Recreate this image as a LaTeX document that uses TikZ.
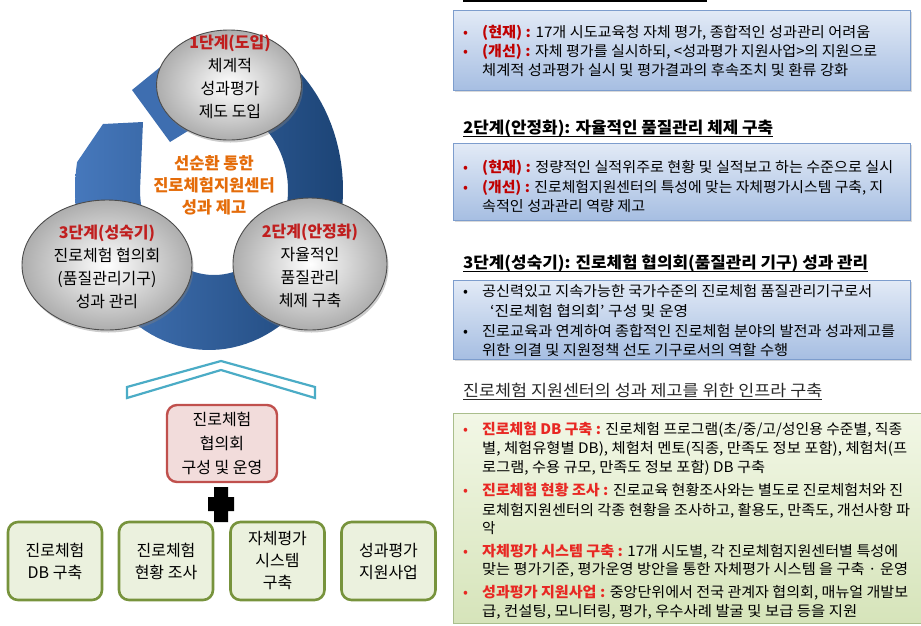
\documentclass[tikz,border=0pt]{standalone}
\usepackage{graphicx}
\usepackage{fontspec}
\setmainfont{Noto Sans CJK KR}
\usetikzlibrary{shapes.geometric,shadows}
\definecolor{ringL}{RGB}{70,120,188}
\definecolor{ringR}{RGB}{28,68,118}
\definecolor{arrowc}{RGB}{62,110,176}
\definecolor{ttlred}{RGB}{192,30,30}
\definecolor{ctrorange}{RGB}{228,108,10}
\definecolor{chevc}{RGB}{75,172,198}
\definecolor{pinkfill}{RGB}{242,220,219}
\definecolor{pinkdraw}{RGB}{192,80,77}
\definecolor{grnfill}{RGB}{235,241,222}
\definecolor{grndraw}{RGB}{119,147,60}
\definecolor{blueTop}{RGB}{226,234,246}
\definecolor{blueBot}{RGB}{166,190,226}
\definecolor{blueDraw}{RGB}{125,157,205}
\definecolor{greenTop}{RGB}{242,247,230}
\definecolor{greenBot}{RGB}{214,228,186}
\definecolor{greenDraw}{RGB}{170,190,140}
\definecolor{hred}{RGB}{192,0,0}
\definecolor{tred}{RGB}{232,40,35}
\definecolor{headgray}{RGB}{40,40,40}
\newcommand\hlred[1]{\textcolor{hred}{\bfseries #1}}
\newcommand\hlterm[1]{\textcolor{tred}{\bfseries #1}}
\newcommand\fitw[2]{\resizebox{#1}{\height}{#2}}
\begin{document}
\begin{tikzpicture}[x=1pt,y=-1pt,
  stage/.style={ellipse, draw=black!70, line width=0.9pt, inner color=white, outer color=black!32, inner sep=0pt,
    drop shadow={opacity=0.4,shadow xshift=1.5pt,shadow yshift=-2.5pt}},
  stagetxt/.style={align=center, inner sep=0pt, font=\fontsize{16}{23}\selectfont},
  ctrtxt/.style={align=center, inner sep=0pt, text=ctrorange, font=\fontsize{16.5}{22}\selectfont\bfseries},
  redbox/.style={draw=pinkdraw, fill=pinkfill, line width=2.4pt, rounded corners=10pt, minimum width=110pt,
    minimum height=77pt, align=center, font=\fontsize{16}{24}\selectfont, inner sep=0pt},
  grnbox/.style={draw=grndraw, fill=grnfill, line width=2.6pt, rounded corners=10pt, minimum width=94pt,
    minimum height=78pt, align=center, font=\fontsize{16}{22}\selectfont, inner sep=0pt},
  bluepanel/.style={draw=blueDraw, line width=0.8pt, top color=blueTop, bottom color=blueBot, anchor=north west,
    inner sep=0pt, drop shadow={opacity=0.3, shadow xshift=1.5pt, shadow yshift=-2pt}},
  greenpanel/.style={draw=greenDraw, line width=0.8pt, top color=greenTop, bottom color=greenBot, anchor=north west, inner sep=0pt},
  ln/.style={anchor=base west, inner sep=0pt, font=\fontsize{14.5}{17}\selectfont},
  bul/.style={anchor=base, inner sep=0pt, font=\fontsize{14.5}{17}\selectfont},
  head/.style={anchor=base west, inner sep=0pt, font=\fontsize{16}{19}\selectfont\bfseries},
  chev/.style={draw=chevc, line width=2.2pt, fill=white, line join=miter}
]
\useasboundingbox (0,0) rectangle (921,625);

% ---------- cycle ring ----------
\path[left color=ringL, right color=ringR] (103,124)
  -- plot[domain=0:1, samples=90, variable=\t] ({209+134*cos(190-265*\t)},{190+160*sin(190-265*\t)})
  -- plot[domain=0:1, samples=90, variable=\t] ({214+74*cos(-75+255*\t)},{190+85*sin(-75+255*\t)})
  -- (143,122) -- cycle;
\fill[arrowc] (132,90) -- (175,55) -- (222,110) -- (170,142) -- cycle;

% ---------- stage circles ----------
\node[stage, minimum width=145pt, minimum height=110pt] (c1) at (229,85) {};
\node[stage, minimum width=154pt, minimum height=132pt] (c2) at (310,264) {};
\node[stage, minimum width=170pt, minimum height=130pt] (c3) at (107,265) {};
\node[stagetxt] (c1t) at (230,77) {\textcolor{ttlred}{\bfseries 1단계(도입)}\\체계적\\성과평가\\제도 도입};
\node[stagetxt] (c2t) at (310,266) {\textcolor{ttlred}{\bfseries 2단계(안정화)}\\자율적인\\품질관리\\체제 구축};
\node[stagetxt] (c3t) at (107,267) {\textcolor{ttlred}{\bfseries 3단계(성숙기)}\\진로체험 협의회\\(품질관리기구)\\성과 관리};
\node[ctrtxt] (ctr) at (214,185) {선순환 통한\\진로체험지원센터\\성과 제고};

% ---------- chevron ----------
\draw[chev] (127,387) -- (221,361) -- (315,387) -- (315,398) -- (221,370) -- (127,398) -- cycle;

% ---------- council box, plus, infrastructure boxes ----------
\node[redbox] (council) at (222,443.5) {진로체험\\협의회\\구성 및 운영};
\fill[black] (214,487) -- (228,487) -- (228,497) -- (234,497) -- (234,511) -- (228,511) -- (228,522)
  -- (214,522) -- (214,511) -- (208,511) -- (208,497) -- (214,497) -- cycle;
\node[grnbox] (g1) at (55,561) {진로체험\\DB 구축};
\node[grnbox] (g2) at (166,561) {진로체험\\현황 조사};
\node[grnbox] (g3) at (277.5,561) {자체평가\\시스템\\구축};
\node[grnbox] (g4) at (388.5,561) {성과평가\\지원사업};

% ---------- right column ----------
\draw[line width=1.6pt] (463,0.8) -- (707,0.8);

\node[bluepanel, minimum width=457pt, minimum height=80pt] (pa) at (453,10) {};
\node[bul] (a1b) at (465.5,37) {\textcolor{hred}{•}};
\node[ln] (a1) at (482,37) {\fitw{388pt}{\hlred{(현재) :} 17개 시도교육청 자체 평가, 종합적인 성과관리 어려움}};
\node[bul] (a2b) at (465.5,56) {\textcolor{hred}{•}};
\node[ln] (a2) at (482,56) {\fitw{395pt}{\hlred{(개선) :} 자체 평가를 실시하되, <성과평가 지원사업>의 지원으로}};
\node[ln] (a3) at (482,75) {\fitw{366pt}{체계적 성과평가 실시 및 평가결과의 후속조치 및 환류 강화}};

\node[head] (h2) at (463,133.5) {\fitw{310pt}{2단계(안정화): 자율적인 품질관리 체제 구축}};
\draw[line width=1.3pt] ([yshift=-3pt]h2.base west) -- ([yshift=-3pt]h2.base east);
\node[bluepanel, minimum width=457pt, minimum height=77pt] (pb) at (453,143) {};
\node[bul] (b1b) at (465.5,172) {\textcolor{hred}{•}};
\node[ln] (b1) at (482,172) {\fitw{411pt}{\hlred{(현재) :} 정량적인 실적위주로 현황 및 실적보고 하는 수준으로 실시}};
\node[bul] (b2b) at (465.5,192) {\textcolor{hred}{•}};
\node[ln] (b2) at (482,192) {\fitw{401pt}{\hlred{(개선) :} 진로체험지원센터의 특성에 맞는 자체평가시스템 구축, 지}};
\node[ln] (b3) at (482,211) {\fitw{163pt}{속적인 성과관리 역량 제고}};

\node[head] (h3) at (463,268.5) {\fitw{405pt}{3단계(성숙기): 진로체험 협의회(품질관리 기구) 성과 관리}};
\draw[line width=1.3pt] ([yshift=-3pt]h3.base west) -- ([yshift=-3pt]h3.base east);
\node[bluepanel, minimum width=457pt, minimum height=79pt] (pc) at (453,280) {};
\node[bul] (c1b) at (465.5,296) {•};
\node[ln] (cl1) at (482,296) {\fitw{390pt}{공신력있고 지속가능한 국가수준의 진로체험 품질관리기구로서}};
\node[ln] (cl2) at (490,316) {\fitw{198pt}{‘진로체험 협의회’ 구성 및 운영}};
\node[bul] (c3b) at (465.5,336) {•};
\node[ln] (cl3) at (482,336) {\fitw{413pt}{진로교육과 연계하여 종합적인 진로체험 분야의 발전과 성과제고를}};
\node[ln] (cl4) at (482,355.5) {\fitw{306pt}{위한 의결 및 지원정책 선도 기구로서의 역할 수행}};

\node[anchor=base west, inner sep=0pt, text=headgray, font=\fontsize{16}{19}\selectfont] (h4) at (463,396.5)
  {\fitw{359pt}{진로체험 지원센터의 성과 제고를 위한 인프라 구축}};
\draw[headgray, line width=1.2pt] ([yshift=-3pt]h4.base west) -- ([yshift=-3pt]h4.base east);
\node[greenpanel, minimum width=468pt, minimum height=210pt] (pd) at (453,413) {};
\node[bul] (d1b) at (465.5,434.5) {\textcolor{tred}{•}};
\node[ln] (d1) at (482,434.5) {\fitw{420pt}{\hlterm{진로체험 DB 구축 :} 진로체험 프로그램(초/중/고/성인용 수준별, 직종}};
\node[ln] (d2) at (482,453.5) {\fitw{425pt}{별, 체험유형별 DB), 체험처 멘토(직종, 만족도 정보 포함), 체험처(프}};
\node[ln] (d3) at (482,472.5) {\fitw{283pt}{로그램, 수용 규모, 만족도 정보 포함) DB 구축}};
\node[bul] (d4b) at (465.5,495.5) {\textcolor{tred}{•}};
\node[ln] (d4) at (482,495.5) {\fitw{421pt}{\hlterm{진로체험 현황 조사 :} 진로교육 현황조사와는 별도로 진로체험처와 진}};
\node[ln] (d5) at (482,515) {\fitw{428pt}{로체험지원센터의 각종 현황을 조사하고, 활용도, 만족도, 개선사항 파}};
\node[ln] (d6) at (482,533.5) {악};
\node[bul] (d7b) at (465.5,556.5) {\textcolor{tred}{•}};
\node[ln] (d7) at (482,556.5) {\fitw{416pt}{\hlterm{자체평가 시스템 구축 :} 17개 시도별, 각 진로체험지원센터별 특성에}};
\node[ln] (d8) at (482,574.5) {\fitw{426pt}{맞는 평가기준, 평가운영 방안을 통한 자체평가 시스템 을 구축 · 운영}};
\node[bul] (d9b) at (465.5,597.5) {\textcolor{tred}{•}};
\node[ln] (d9) at (482,597.5) {\fitw{426pt}{\hlterm{성과평가 지원사업 :} 중앙단위에서 전국 관계자 협의회, 매뉴얼 개발보}};
\node[ln] (d10) at (482,616.5) {\fitw{375pt}{급, 컨설팅, 모니터링, 평가, 우수사례 발굴 및 보급 등을 지원}};
\end{tikzpicture}
\end{document}
